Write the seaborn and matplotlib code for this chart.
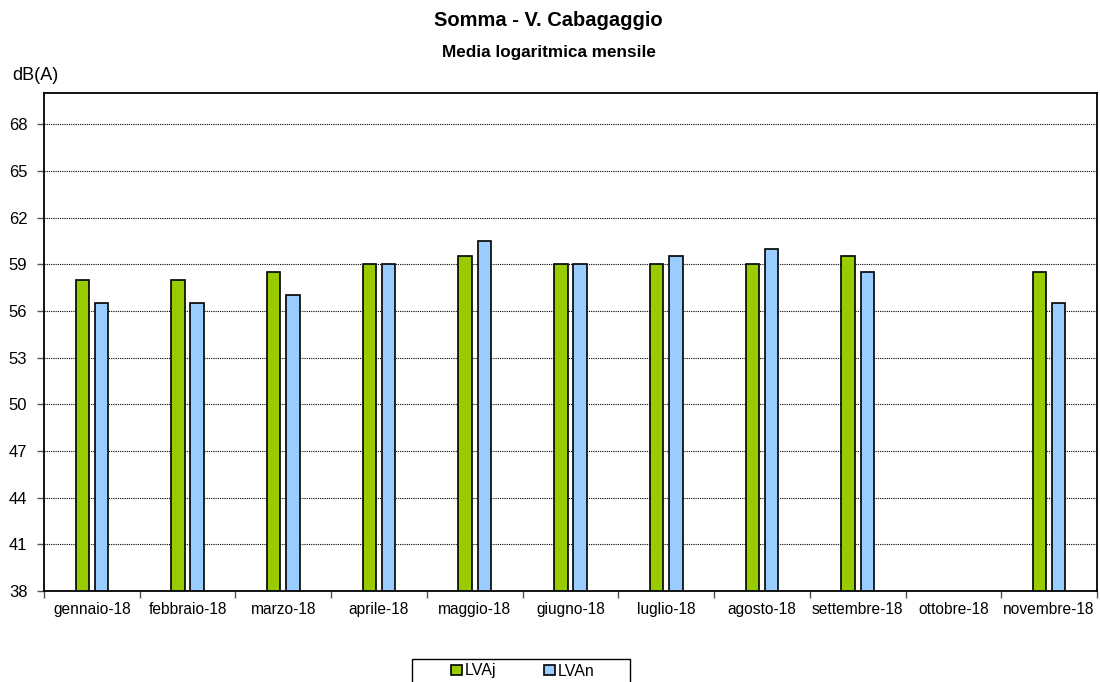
import numpy as np
import pandas as pd
import matplotlib
matplotlib.use("Agg")
import matplotlib.pyplot as plt
import seaborn as sns

# monthly log averages, dB(A)
months = ["gennaio-18", "febbraio-18", "marzo-18", "aprile-18", "maggio-18", "giugno-18",
          "luglio-18", "agosto-18", "settembre-18", "ottobre-18", "novembre-18"]
lvaj = [58.0, 58.0, 58.5, 59.0, 59.5, 59.0, 59.0, 59.0, 59.5, np.nan, 58.5]
lvan = [56.5, 56.5, 57.0, 59.0, 60.5, 59.0, 59.5, 60.0, 58.5, np.nan, 56.5]
series = ["LVAj", "LVAn"]
colors = ["#99cc00", "#99ccff"]

df = pd.DataFrame({"mese": months * 2,
                   "valore": lvaj + lvan,
                   "serie": [series[0]] * len(months) + [series[1]] * len(months)})

sns.set_style("white")
plt.rcParams["font.family"] = ["Liberation Sans", "DejaVu Sans"]
plt.rcParams["text.color"] = "black"
plt.rcParams["xtick.color"] = "black"
plt.rcParams["ytick.color"] = "black"

fig = plt.figure(figsize=(11, 6.82), dpi=100)
ax = fig.add_axes([44 / 1100, 1 - 591 / 682, (1097 - 44) / 1100, (591 - 93) / 682])

sns.barplot(data=df, x="mese", y="valore", hue="serie", order=months, hue_order=series,
            palette=colors, width=0.4, gap=0.3, edgecolor="black", linewidth=1.2,
            saturation=1, ax=ax, legend=True)

ax.set_ylim(38, 70)
ax.set_xlim(-0.5, len(months) - 0.5)
ax.set_yticks(np.arange(38, 69, 3))
ax.yaxis.grid(True, color="black", linestyle=(0, (1, 1)), linewidth=0.8)
ax.set_axisbelow(True)
ax.set_xlabel("")
ax.set_ylabel("")

# ticks at category boundaries, labels at centres
ax.set_xticks(np.arange(len(months)))
ax.set_xticklabels(months, fontsize=11.2)
ax.set_xticks(np.arange(-0.5, len(months), 1), minor=True)
ax.tick_params(axis="x", which="major", length=0, pad=8)
ax.tick_params(axis="x", which="minor", bottom=True, length=5, width=1,
               color="#555555", direction="out")
ax.tick_params(axis="y", left=True, length=5, width=1, direction="out", labelsize=12,
               color="#555555", labelcolor="black", pad=7)

for s in ax.spines.values():
    s.set_color("black")
    s.set_linewidth(1.3)

fig.text(548 / 1100, 1 - 20 / 682, "Somma - V. Cabagaggio", ha="center", va="center",
         fontsize=14.5, fontweight="bold")
fig.text(549 / 1100, 1 - 52 / 682, "Media logaritmica mensile", ha="center", va="center",
         fontsize=12.3, fontweight="bold")
fig.text(35 / 1100, 1 - 75 / 682, "dB(A)", ha="center", va="center", fontsize=13)

# legend: frame drawn separately, entries centred inside it
ax.get_legend().remove()
fig.patches.append(plt.Rectangle((412 / 1100, -0.02), (630 - 412) / 1100, (682 - 659) / 682 + 0.02,
                                 transform=fig.transFigure, facecolor="white",
                                 edgecolor="black", linewidth=1))
handles = [plt.Rectangle((0, 0), 1, 1, facecolor=c, edgecolor="black", linewidth=1.2) for c in colors]
leg = fig.legend(handles, series, loc="center", bbox_to_anchor=(523 / 1100, 1 - 671 / 682),
                 ncol=2, fontsize=11.5, frameon=False, handlelength=0.65,
                 handleheight=0.65, handletextpad=0.2, columnspacing=3.0, borderpad=0,
                 borderaxespad=0)

fig.savefig("out.png", dpi=100)
